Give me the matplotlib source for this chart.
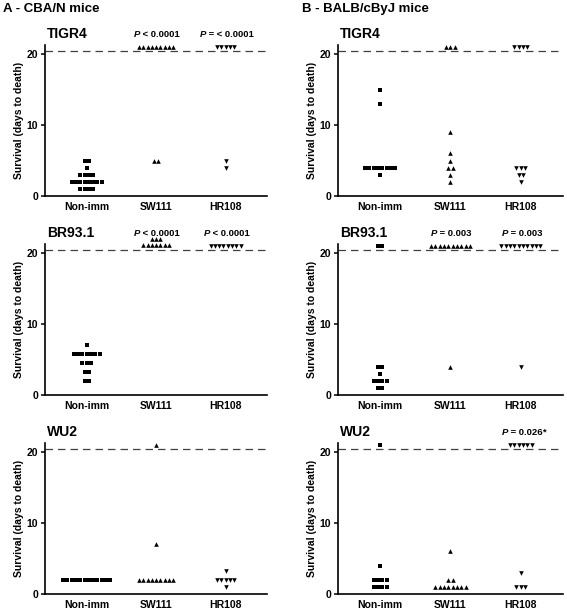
import matplotlib.pyplot as plt
import numpy as np

plt.rcParams['font.family'] = ['Liberation Sans', 'DejaVu Sans']
plt.rcParams['font.weight'] = 'bold'

# --- data (days to death; 21 = survived) ---
GROUPS = ['Non-imm', 'SW111', 'HR108']
MARKERS = ['s', '^', 'v']
MSIZES = [2.35, 3.3, 3.3]

# A - CBA/N mice
A_TIGR4_NONIMM = [5, 5, 4, 3, 3, 3, 3, 2, 2, 2, 2, 2, 2, 2, 2, 1, 1, 1, 1]
A_TIGR4_SW111 = [21, 21, 21, 21, 21, 21, 21, 21, 21, 5, 5]
A_TIGR4_HR108 = [21, 21, 21, 21, 21, 5, 4]

A_BR93_NONIMM = [7, 5.75, 5.75, 5.75, 5.75, 5.75, 5.75, 5.75, 4.5, 4.5, 4.5, 3.25, 3.25, 2, 2]
A_BR93_SW111 = [22, 22, 22, 21.2, 21.2, 21.2, 21.2, 21.2, 21.2, 21.2]
A_BR93_HR108 = [21, 21, 21, 21, 21, 21, 21, 21]

A_WU2_NONIMM = [2, 2, 2, 2, 2, 2, 2, 2, 2, 2, 2, 2]
A_WU2_SW111 = [21, 7, 2, 2, 2, 2, 2, 2, 2, 2, 2]
A_WU2_HR108 = [3.3, 2, 2, 2, 2, 2, 1]

# B - BALB/cByJ mice
B_TIGR4_NONIMM = [15, 13, 4, 4, 4, 4, 4, 4, 4, 4, 3]
B_TIGR4_SW111 = [21, 21, 21, 9, 6, 5, 4, 4, 3, 2]
B_TIGR4_HR108 = [21, 21, 21, 21, 4, 4, 4, 3, 3, 2]

B_BR93_NONIMM = [21, 21, 4, 4, 3, 2, 2, 2, 2, 1, 1]
B_BR93_SW111 = [21, 21, 21, 21, 21, 21, 21, 21, 21, 21, 4]
B_BR93_HR108 = [21, 21, 21, 21, 21, 21, 21, 21, 21, 21, 4]

B_WU2_NONIMM = [21, 4, 2, 2, 2, 2, 1, 1, 1, 1]
B_WU2_SW111 = [6, 2, 2, 1, 1, 1, 1, 1, 1, 1, 1]
B_WU2_HR108 = [21, 21, 21, 21, 21, 21, 3, 1, 1, 1]

PANELS = [
    # (title, data, p-labels, column, row)
    ('TIGR4', [A_TIGR4_NONIMM, A_TIGR4_SW111, A_TIGR4_HR108], [None, ' < 0.0001', ' = < 0.0001'], 0, 0),
    ('BR93.1', [A_BR93_NONIMM, A_BR93_SW111, A_BR93_HR108], [None, ' < 0.0001', ' < 0.0001'], 0, 1),
    ('WU2', [A_WU2_NONIMM, A_WU2_SW111, A_WU2_HR108], [None, None, None], 0, 2),
    ('TIGR4', [B_TIGR4_NONIMM, B_TIGR4_SW111, B_TIGR4_HR108], [None, None, None], 1, 0),
    ('BR93.1', [B_BR93_NONIMM, B_BR93_SW111, B_BR93_HR108], [None, ' = 0.003', ' = 0.003'], 1, 1),
    ('WU2', [B_WU2_NONIMM, B_WU2_SW111, B_WU2_HR108], [None, None, ' = 0.026'], 1, 2),
]

STEP = 0.062  # horizontal spacing between tied points


def spread(values, x0):
    xs, ys = [], []
    for v in sorted(set(values), reverse=True):
        n = values.count(v)
        offs = (np.arange(n) - (n - 1) / 2) * STEP
        xs.extend(x0 + offs)
        ys.extend([v] * n)
    return xs, ys


fig = plt.figure(figsize=(5.67, 6.10), dpi=100)

lefts = [0.0794, 0.596]
widths = [0.392, 0.397]
bottoms = [0.6787, 0.3525, 0.0262]
height = 0.2475

for title, data, plabels, col, row in PANELS:
    ax = fig.add_axes([lefts[col], bottoms[row], widths[col], height])
    for i, vals in enumerate(data):
        xs, ys = spread(vals, i)
        ax.plot(xs, ys, ls='none', marker=MARKERS[i], ms=MSIZES[i], color='black',
                markeredgewidth=0, clip_on=False, zorder=3)
        if plabels[i]:
            rest = ax.text(i + 0.06, 1.04, plabels[i], transform=ax.get_xaxis_transform(),
                           ha='center', va='bottom', fontsize=6.8, fontweight='bold')
            ax.annotate('P', xy=(0, 0), xycoords=rest, ha='right', va='bottom',
                        fontsize=6.8, fontweight='bold', fontstyle='italic')
            if title == 'WU2':
                ax.annotate('*', xy=(1, 1.05), xycoords=rest, ha='left', va='top',
                            fontsize=6.8, fontweight='bold')
    ax.axhline(20.5, color='0.25', lw=0.9, dashes=(6, 4), zorder=1)
    ax.set_xlim(-0.6, 2.6)
    ax.set_ylim(0, 21.3)
    ax.set_yticks([0, 10, 20])
    ax.set_xticks(range(3))
    ax.set_xticklabels(GROUPS, fontsize=7.5, fontweight='bold')
    ax.tick_params(axis='x', length=0, pad=4)
    ax.tick_params(axis='y', length=3, width=1.1, labelsize=7.5, pad=2)
    for t in ax.get_yticklabels():
        t.set_fontweight('bold')
    for s in ['top', 'right']:
        ax.spines[s].set_visible(False)
    for s in ['left', 'bottom']:
        ax.spines[s].set_linewidth(1.2)
    ax.set_ylabel('Survival (days to death)', fontsize=7.5, fontweight='bold', labelpad=2)
    ax.text(0.01, 1.025, title, transform=ax.transAxes, ha='left', va='bottom',
            fontsize=10, fontweight='bold')

fig.text(0.005, 0.995, 'A - CBA/N mice', ha='left', va='top', fontsize=9.5, fontweight='bold')
fig.text(0.533, 0.995, 'B - BALB/cByJ mice', ha='left', va='top', fontsize=9.5, fontweight='bold')

fig.savefig('out.png', dpi=100)
